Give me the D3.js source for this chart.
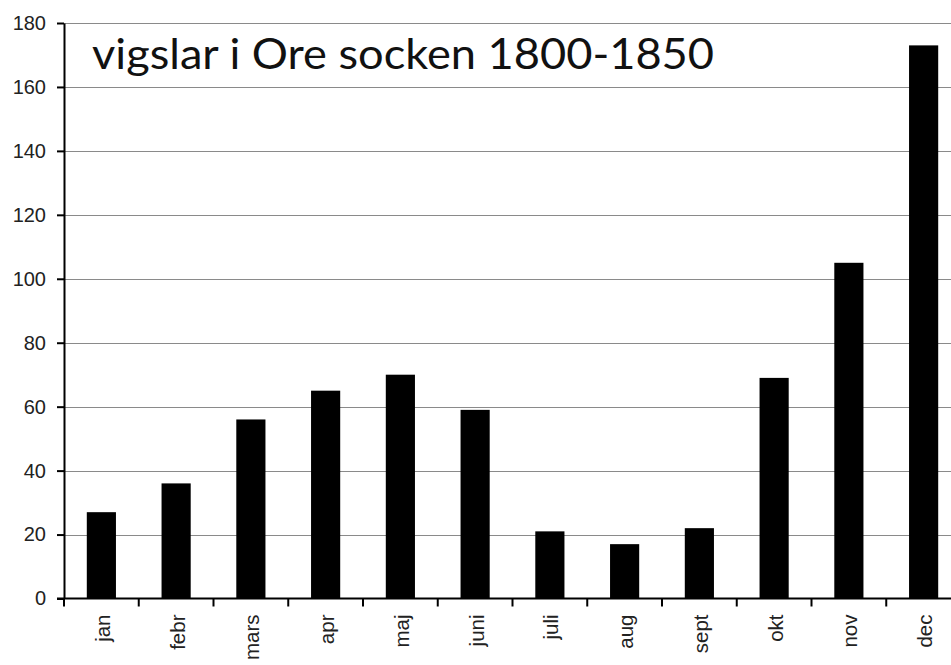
<!DOCTYPE html>
<html>
<head>
<meta charset="utf-8">
<script src="https://cdn.jsdelivr.net/npm/d3@7"></script>
<style>
  body { margin: 0; background: #fff; }
  svg { display: block; }
</style>
</head>
<body>
<div id="chart"></div>
<script>
const months = ["jan", "febr", "mars", "apr", "maj", "juni", "juli", "aug", "sept", "okt", "nov", "dec"];
const marriages = [27, 36, 56, 65, 70, 59, 21, 17, 22, 69, 105, 173];
const yTicks = [0, 20, 40, 60, 80, 100, 120, 140, 160, 180];
const title = "vigslar i Ore socken 1800-1850";

const width = 951, height = 665;
const margin = { top: 23, left: 64, bottom: 66 };
// plot runs a bit past the right edge of the picture
const plotRight = 961;

const svg = d3.select("#chart").append("svg")
    .attr("width", width)
    .attr("height", height);

const x = d3.scaleBand()
    .domain(months)
    .range([margin.left, plotRight])
    .paddingInner(0.61)
    .paddingOuter(0.305);

const y = d3.scaleLinear()
    .domain([0, 180])
    .range([height - margin.bottom - 0.5, margin.top]);

// gridlines
svg.append("g")
    .selectAll("line")
    .data(yTicks.filter(d => d > 0))
    .join("line")
    .attr("x1", margin.left)
    .attr("x2", width)
    .attr("y1", d => Math.round(y(d)) + 0.5)
    .attr("y2", d => Math.round(y(d)) + 0.5)
    .attr("stroke", "#8a8a8a")
    .attr("stroke-width", 1.2);

// bars
svg.append("g")
    .selectAll("rect")
    .data(months)
    .join("rect")
    .attr("x", d => x(d))
    .attr("width", x.bandwidth())
    .attr("y", (d, i) => y(marriages[i]))
    .attr("height", (d, i) => y(0) - y(marriages[i]))
    .attr("fill", "#000");

// y axis
const yAxis = svg.append("g")
    .attr("transform", `translate(${margin.left},0)`)
    .call(d3.axisLeft(y).tickValues(yTicks).tickSize(7).tickPadding(11).tickSizeOuter(0));
yAxis.attr("font-size", 20).attr("font-family", "'Liberation Sans', Arial, sans-serif");
yAxis.select(".domain").attr("stroke-width", 2);
yAxis.selectAll(".tick line").attr("stroke-width", 2);
yAxis.selectAll("text").attr("fill", "#222");

// x axis with ticks between the bands
const xAxis = svg.append("g")
    .attr("transform", `translate(0,${y(0)})`)
    .attr("font-size", 20.5)
    .attr("font-family", "'Liberation Sans', Arial, sans-serif");
xAxis.append("line")
    .attr("x1", margin.left - 7)
    .attr("x2", width)
    .attr("stroke", "#000")
    .attr("stroke-width", 2);
xAxis.selectAll(".sep")
    .data(months)
    .join("line")
    .attr("class", "sep")
    .attr("x1", d => x(d) - x.step() * x.paddingOuter())
    .attr("x2", d => x(d) - x.step() * x.paddingOuter())
    .attr("y1", 0)
    .attr("y2", 8)
    .attr("stroke", "#000")
    .attr("stroke-width", 2);
xAxis.selectAll(".lbl")
    .data(months)
    .join("text")
    .attr("class", "lbl")
    .attr("transform", d => `translate(${x(d) + x.bandwidth() / 2 + 8.5},16) rotate(-90)`)
    .attr("text-anchor", "end")
    .attr("fill", "#222")
    .text(d => d);

// title
svg.append("text")
    .attr("x", 92)
    .attr("y", 69)
    .style("font-family", "Lato, 'Open Sans', sans-serif")
    .style("font-size", "43px")
    .attr("fill", "#111")
    .attr("textLength", 622)
    .attr("lengthAdjust", "spacingAndGlyphs")
    .text(title);
</script>
</body>
</html>
